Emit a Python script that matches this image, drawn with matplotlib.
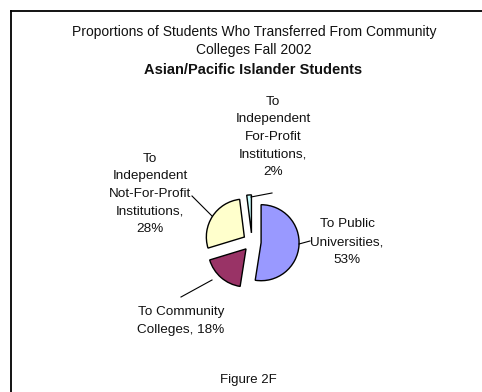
import matplotlib
matplotlib.use('Agg')
import matplotlib.pyplot as plt
from matplotlib.lines import Line2D

categories = ['To Public\nUniversities,', 'To Community\nColleges,',
              'To\nIndependent\nNot-For-Profit\nInstitutions,',
              'To\nIndependent\nFor-Profit\nInstitutions,']
percents = [53, 18, 28, 2]
colors = ['#9999FF', '#993366', '#FFFFCC', '#CCFFFF']

W, H = 482, 392
# label centres and leader lines in pixel coords (y measured from the top)
label_pos = [(347, 242), (181, 321), (150, 194), (273, 137)]
label_text = ['To Public\nUniversities,\n53%', 'To Community\nColleges, 18%',
              'To\nIndependent\nNot-For-Profit\nInstitutions,\n28%',
              'To\nIndependent\nFor-Profit\nInstitutions,\n2%']
leaders = [((299, 244), (310, 241)), ((212, 280), (181, 297)),
           ((212, 216), (192, 196)), ((251, 197), (272, 193))]

plt.rcParams['font.family'] = ['Liberation Sans', 'DejaVu Sans']

fig = plt.figure(figsize=(W / 100, H / 100), dpi=100)
ax = fig.add_axes([0, 0, 1, 1])


def fy(y):
    return H - y


R = 38
ax.pie(percents, colors=colors, startangle=90, counterclock=False,
       center=(252, fy(242)), radius=R, explode=[0.24 * R] * 4,
       wedgeprops=dict(edgecolor='black', linewidth=1.0))
ax.set_xlim(0, W)
ax.set_ylim(0, H)
ax.set_aspect('auto')
ax.axis('off')

for (x, y), txt in zip(label_pos, label_text):
    ax.text(x, fy(y), txt, ha='center', va='center', fontsize=9.7,
            linespacing=1.62, color='#111111')

for (x0, y0), (x1, y1) in leaders:
    ax.plot([x0, x1], [fy(y0), fy(y1)], color='black', lw=0.8)

ax.text(254, fy(41), 'Proportions of Students Who Transferred From Community\nColleges Fall 2002',
        ha='center', va='center', fontsize=10, linespacing=1.42, color='#111111')
ax.text(253, fy(69.5), 'Asian/Pacific Islander Students', ha='center', va='center',
        fontsize=10.5, fontweight='bold', color='#111111')
ax.text(248, fy(380), 'Figure 2F', ha='center', va='center', fontsize=9.5, color='#111111')

# chart frame, only the top and left edges fall inside the image
fig.add_artist(Line2D([11 / W, 11 / W], [0, 1 - 11 / H], color='black', lw=1.3,
                      transform=fig.transFigure))
fig.add_artist(Line2D([11 / W, 1], [1 - 11 / H, 1 - 11 / H], color='black', lw=1.3,
                      transform=fig.transFigure))

fig.savefig('out.png', dpi=100)
